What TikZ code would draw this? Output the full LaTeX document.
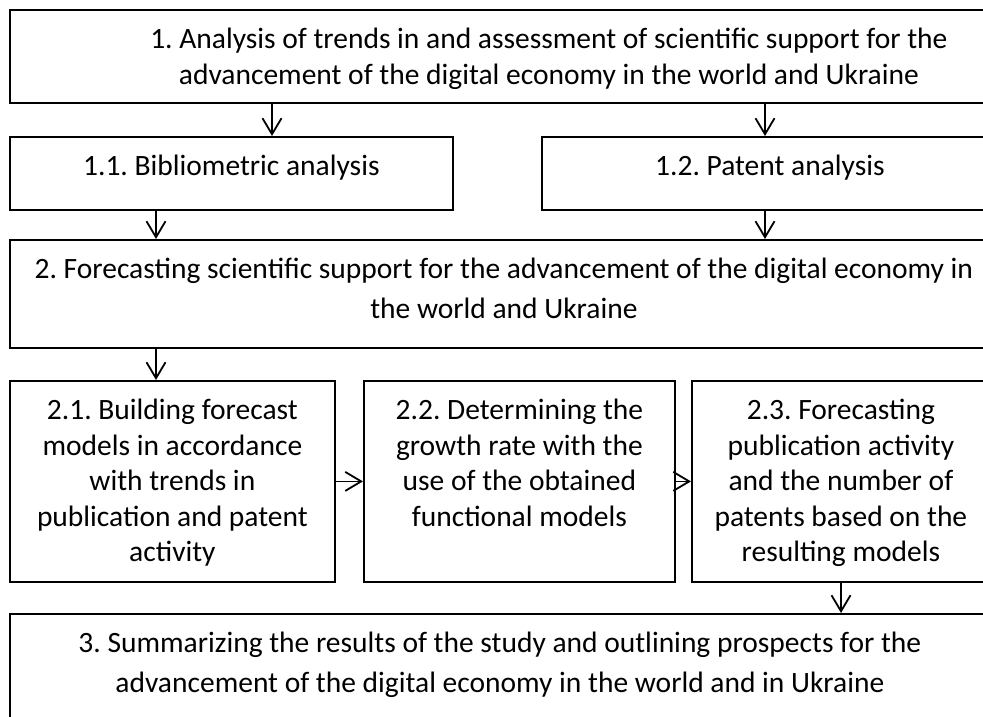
\documentclass[tikz,border=0pt]{standalone}
\usepackage{fontspec}
\setmainfont{Carlito}
\frenchspacing
\usepackage{tikz}
\usetikzlibrary{arrows.meta}

\begin{document}
\begin{tikzpicture}[x=1pt, y=-1pt, >={Straight Barb[length=16pt, width=19pt]},
  box/.style={draw, line width=1.8pt, anchor=north west, align=flush center,
    inner xsep=0pt, inner ysep=0pt, text height=39pt,
    font=\fontsize{29.5}{35.5}\selectfont},
  loose/.style={font=\fontsize{29.5}{40}\selectfont},
  link/.style={->, line width=1.8pt}]
  \useasboundingbox (0,0) rectangle (983,716);

  \node[box, text width=1078pt, text depth=54pt] (b1) at (9,9)
    {1. Analysis of trends in and assessment of scientific support for the\\
     advancement of the digital economy in the world and Ukraine};

  \node[box, text width=443pt, text depth=34pt] (b11) at (9,136)
    {1.1. Bibliometric analysis};
  \node[box, text width=456pt, text depth=34pt] (b12) at (541,136)
    {1.2. Patent analysis};

  \node[box, loose, text width=988pt, text depth=69pt] (b2) at (9,239)
    {2. Forecasting scientific support for the advancement of the digital economy in\\
     the world and Ukraine};

  \node[box, text width=325pt, text depth=162pt] (b21) at (9,380)
    {2.1. Building forecast\\models in accordance\\with trends in\\publication and patent\\activity};
  \node[box, text width=311pt, text depth=162pt] (b22) at (363,380)
    {2.2. Determining the\\growth rate with the\\use of the obtained\\functional models};
  \node[box, text width=298pt, text depth=162pt] (b23) at (691,380)
    {2.3. Forecasting\\publication activity\\and the number of\\patents based on the\\resulting models};

  \node[box, loose, text width=980pt, text depth=100pt] (b3) at (9,613)
    {3. Summarizing the results of the study and outlining prospects for the\\
     advancement of the digital economy in the world and in Ukraine};

  \coordinate (t11) at ([xshift=263pt]b11.north west);
  \coordinate (t12) at ([xshift=224pt]b12.north west);
  \coordinate (s11) at ([xshift=147pt]b11.south west);
  \coordinate (s12) at ([xshift=224pt]b12.south west);
  \coordinate (t21) at ([xshift=147pt]b21.north west);
  \coordinate (s23) at ([xshift=150pt]b23.south west);

  \draw[link] (b1.south -| t11) -- (t11);
  \draw[link] (b1.south -| t12) -- (t12);
  \draw[link] (s11) -- (s11 |- b2.north);
  \draw[link] (s12) -- (s12 |- b2.north);
  \draw[link] (b2.south -| t21) -- (t21);
  \draw[link] (b21.east) -- (b22.west);
  \draw[link] (b22.east) -- (b23.west);
  \draw[link] (s23) -- (s23 |- b3.north);
\end{tikzpicture}
\end{document}
